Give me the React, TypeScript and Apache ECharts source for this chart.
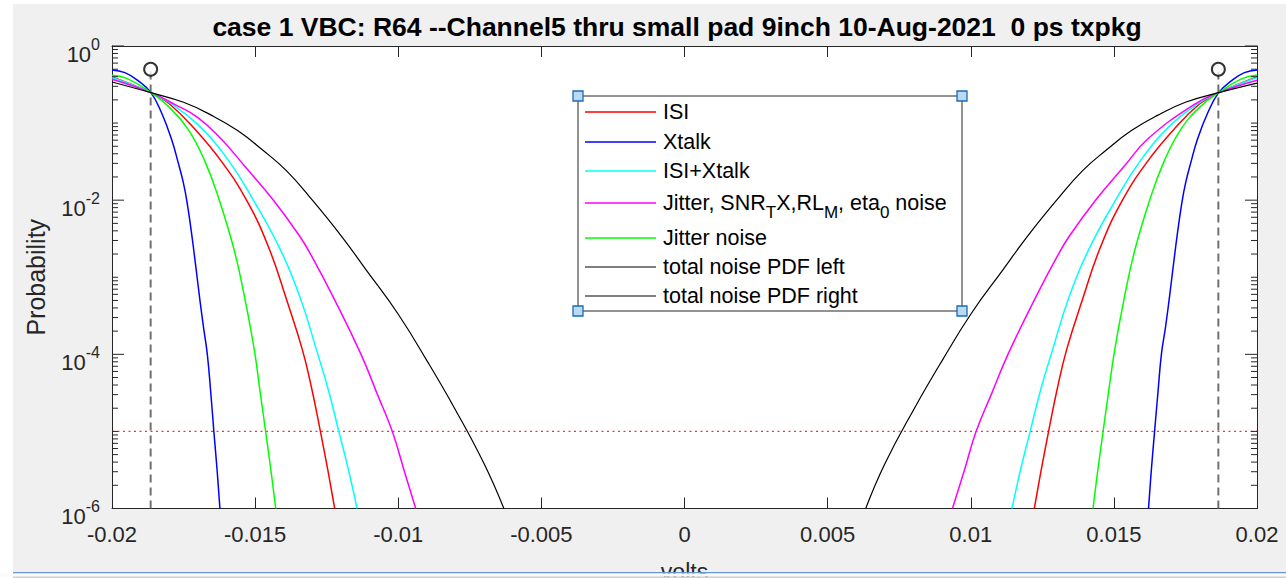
import { useEffect, useRef } from 'react';
import * as echarts from 'echarts';

const TITLE = 'case 1 VBC: R64 --Channel5 thru small pad 9inch 10-Aug-2021  0 ps txpkg';
const X_MIN = -0.02;
const X_MAX = 0.02;
const X_STEP = 0.005;
const Y_MIN = 1e-6;
const Y_MAX = 1;
const BER_LINE = 1e-5;
const MARKER_X = [-0.01865, 0.01865];
const MARKER_Y = 0.5;

const LEGEND_NAMES = [
  'ISI',
  'Xtalk',
  'ISI+Xtalk',
  '{n|Jitter, SNR}{s|T}{n|X,RL}{s|M}{n|, eta}{s|0}{n| noise}',
  'Jitter noise',
  'total noise PDF left',
  'total noise PDF right',
];
const COLORS = ['#ff0000', '#0000ff', '#00ffff', '#ff00ff', '#00ff00', '#000000', '#000000'];

// [volts, probability]
const isiLeft = [[-0.02, 0.398], [-0.01864, 0.248], [-0.018, 0.178], [-0.0171, 0.083], [-0.01617, 0.0316], [-0.0153, 0.01], [-0.01454, 0.00251], [-0.0139, 5.1e-4], [-0.01335, 1.15e-4], [-0.01302, 3.55e-5], [-0.01272, 1.0e-5], [-0.01245, 3.0e-6], [-0.01222, 1e-6]];
const isiRight = [[0.01222, 1e-6], [0.01245, 3.0e-6], [0.01272, 1.0e-5], [0.01302, 3.55e-5], [0.01335, 1.15e-4], [0.0139, 5.1e-4], [0.01454, 0.00251], [0.0153, 0.01], [0.01617, 0.0316], [0.0171, 0.083], [0.018, 0.178], [0.01866, 0.248], [0.02, 0.398]];
const xtalkLeft = [[-0.02, 0.489], [-0.01955, 0.451], [-0.01908, 0.352], [-0.01864, 0.248], [-0.01827, 0.136], [-0.01792, 0.0617], [-0.01769, 0.0309], [-0.01751, 0.017], [-0.01738, 0.0095], [-0.01722, 0.0037], [-0.01707, 0.00135], [-0.01693, 5.1e-4], [-0.0168, 2.2e-4], [-0.01667, 1.0e-4], [-0.01655, 3.2e-5], [-0.01644, 9.8e-6], [-0.01633, 3.2e-6], [-0.01623, 1e-6]];
const xtalkRight = [[0.01621, 1e-6], [0.01631, 3.2e-6], [0.01642, 9.8e-6], [0.01654, 3.2e-5], [0.01666, 1.0e-4], [0.0168, 2.2e-4], [0.01693, 5.1e-4], [0.01707, 0.00135], [0.01722, 0.0037], [0.01738, 0.0095], [0.01751, 0.017], [0.01769, 0.0309], [0.01792, 0.0617], [0.01828, 0.136], [0.01866, 0.248], [0.0191, 0.352], [0.01956, 0.451], [0.02, 0.489]];
const isiXtalkLeft = [[-0.02, 0.39], [-0.01864, 0.248], [-0.018, 0.185], [-0.017, 0.0955], [-0.01594, 0.0331], [-0.01506, 0.01], [-0.01407, 0.00209], [-0.0134, 5.1e-4], [-0.01286, 1.15e-4], [-0.01245, 3.55e-5], [-0.01207, 9.8e-6], [-0.01175, 3.3e-6], [-0.01144, 1e-6]];
const isiXtalkRight = [[0.01144, 1e-6], [0.01175, 3.3e-6], [0.01207, 9.8e-6], [0.01245, 3.55e-5], [0.01286, 1.15e-4], [0.0134, 5.1e-4], [0.01407, 0.00209], [0.01506, 0.01], [0.01594, 0.0331], [0.017, 0.0955], [0.018, 0.185], [0.01866, 0.248], [0.02, 0.39]];
const jitterSnrLeft = [[-0.02, 0.37], [-0.01864, 0.248], [-0.0178, 0.174], [-0.017, 0.118], [-0.0162, 0.063], [-0.01536, 0.0275], [-0.01436, 0.01], [-0.01344, 0.0034], [-0.01302, 0.00186], [-0.01228, 5.6e-4], [-0.0113, 1.0e-4], [-0.01075, 3.16e-5], [-0.0102, 9.8e-6], [-0.0098, 3.16e-6], [-0.00939, 1e-6]];
const jitterSnrRight = [[0.00936, 1e-6], [0.00978, 3.16e-6], [0.01018, 9.8e-6], [0.01074, 3.16e-5], [0.0113, 1.0e-4], [0.01228, 5.6e-4], [0.01302, 0.00186], [0.01344, 0.0034], [0.01436, 0.01], [0.01536, 0.0275], [0.0162, 0.063], [0.0178, 0.174], [0.01866, 0.248], [0.02, 0.36]];
const jitterLeft = [[-0.02, 0.417], [-0.01943, 0.372], [-0.01864, 0.248], [-0.01804, 0.166], [-0.01734, 0.083], [-0.01675, 0.0316], [-0.01625, 0.01], [-0.01573, 0.00224], [-0.01535, 5.1e-4], [-0.01503, 1.15e-4], [-0.01482, 3.16e-5], [-0.01463, 9.8e-6], [-0.01445, 3.16e-6], [-0.01428, 1e-6]];
const jitterRight = [[0.01427, 1e-6], [0.01444, 3.16e-6], [0.01462, 9.8e-6], [0.01481, 3.16e-5], [0.01503, 1.15e-4], [0.01535, 5.1e-4], [0.01573, 0.00224], [0.01625, 0.01], [0.01675, 0.0316], [0.01734, 0.083], [0.01804, 0.166], [0.01866, 0.248], [0.01944, 0.372], [0.02, 0.42]];
const totalLeft = [[-0.02, 0.341], [-0.01864, 0.248], [-0.0175, 0.186], [-0.01652, 0.126], [-0.0156, 0.0794], [-0.01477, 0.0457], [-0.0139, 0.024], [-0.013, 0.01], [-0.012, 0.00347], [-0.01111, 0.00123], [-0.01, 3.31e-4], [-0.009, 8.3e-5], [-0.008, 1.9e-5], [-0.007, 3.8e-6], [-0.00631, 1e-6]];
const totalRight = [[0.00633, 1e-6], [0.007, 3.8e-6], [0.008, 1.9e-5], [0.009, 8.3e-5], [0.01, 3.31e-4], [0.01111, 0.00123], [0.012, 0.00347], [0.013, 0.01], [0.0139, 0.024], [0.01477, 0.0457], [0.0156, 0.0794], [0.01652, 0.126], [0.0175, 0.186], [0.01866, 0.248], [0.02, 0.33]];

const SERIES_DATA = [
  [isiLeft, isiRight],
  [xtalkLeft, xtalkRight],
  [isiXtalkLeft, isiXtalkRight],
  [jitterSnrLeft, jitterSnrRight],
  [jitterLeft, jitterRight],
  [totalLeft],
  [totalRight],
];

const FONT = '"Liberation Sans", Arial, Helvetica, sans-serif';
const AXIS = '#262626';
const TEXT = '#262626';

// log-axis tick marks (major every 2 decades, minor at k*10^n)
const Y_MAJOR_EXP = [-6, -4, -2, 0];
const Y_DECADES = [-6, -5, -4, -3, -2, -1];
const MANTISSAS = [1, 2, 3, 4, 5, 6, 7, 8, 9];

export default function App() {
  const ref = useRef<HTMLDivElement>(null);
  useEffect(() => {
    if (!ref.current) return;
    const chart = echarts.init(ref.current, undefined, { renderer: 'svg' });

    const tickData: number[][] = [];
    Y_MAJOR_EXP.forEach((e) => tickData.push([X_MIN, Math.pow(10, e), 12]));
    Y_DECADES.forEach((e) => {
      MANTISSAS.forEach((m) => {
        if (m === 1 && Y_MAJOR_EXP.indexOf(e) >= 0) return;
        tickData.push([X_MIN, m * Math.pow(10, e), 6]);
      });
    });

    const lineSeries: any[] = [];
    SERIES_DATA.forEach((parts, i) => {
      parts.forEach((d, j) => {
        lineSeries.push({
          type: 'line',
          name: j === 0 ? 's' + i : 's' + i + 'r',
          data: d,
          showSymbol: false,
          smooth: 0.45,
          lineStyle: { color: COLORS[i], width: i >= 5 ? 1.2 : 1.5 },
          itemStyle: { color: COLORS[i] },
          silent: true,
          z: 3,
        });
      });
    });

    const legendRowsY = [112, 142, 171, 203, 238, 267, 296];
    const legendChildren: any[] = [
      { type: 'rect', shape: { x: 578, y: 96, width: 384, height: 215 }, style: { fill: '#ffffff', stroke: AXIS, lineWidth: 1 } },
    ];
    LEGEND_NAMES.forEach((name, i) => {
      const y = legendRowsY[i];
      legendChildren.push({ type: 'line', shape: { x1: 585, y1: y, x2: 656, y2: y }, style: { stroke: COLORS[i], lineWidth: i >= 5 ? 1.2 : 1.5 } });
      legendChildren.push({
        type: 'text',
        style: {
          x: 663, y, text: name, fill: '#000', fontSize: 21.5, fontFamily: FONT, verticalAlign: 'middle', align: 'left',
          rich: {
            n: { fontSize: 21.5, lineHeight: 21, fontFamily: FONT, fill: '#000' },
            s: { fontSize: 17, lineHeight: 17, padding: [18, 0, 0, 0], fontFamily: FONT, fill: '#000' },
          },
        },
      });
    });
    [[578, 96], [962, 96], [578, 311], [962, 311]].forEach(([cx, cy]) => {
      legendChildren.push({ type: 'rect', shape: { x: cx - 5, y: cy - 5, width: 10, height: 10 }, style: { fill: '#b9daf2', stroke: '#1d6bb5', lineWidth: 1.3 } });
    });

    const xAxisBase = {
      type: 'value', min: X_MIN, max: X_MAX, interval: X_STEP,
      axisLine: { show: true, onZero: false, lineStyle: { color: AXIS, width: 1 } },
      axisTick: { show: true, inside: true, length: 11, lineStyle: { color: AXIS, width: 1 } },
      splitLine: { show: false },
    };
    const yAxisBase = {
      type: 'log', logBase: 10, min: Y_MIN, max: Y_MAX, splitNumber: 6,
      axisLine: { show: true, onZero: false, lineStyle: { color: AXIS, width: 1 } },
      axisTick: { show: false },
      minorTick: { show: false },
      splitLine: { show: false },
    };

    chart.setOption({
      animation: false,
      backgroundColor: '#ffffff',
      grid: {
        left: 112, top: 46, width: 1145, height: 462.5, show: true, backgroundColor: '#ffffff', borderWidth: 0,
        containLabel: false, outerBoundsMode: 'none',
      },
      xAxis: [
        {
          ...xAxisBase, position: 'bottom',
          name: 'volts', nameLocation: 'middle', nameGap: 52,
          nameTextStyle: { fontSize: 23, color: TEXT, fontFamily: FONT },
          axisLabel: { show: true, margin: 15, color: TEXT, fontSize: 22, fontFamily: FONT },
        },
        { ...xAxisBase, position: 'top', axisLabel: { show: false } },
      ],
      yAxis: [
        {
          ...yAxisBase, position: 'left',
          name: 'Probability', nameLocation: 'middle', nameGap: 64, nameRotate: 90,
          nameTextStyle: { fontSize: 25, color: TEXT, fontFamily: FONT },
          axisLabel: {
            show: true, margin: 12, color: TEXT, fontFamily: FONT,
            formatter: (v: number) => {
              const e = Math.round(Math.log10(v));
              if (Y_MAJOR_EXP.indexOf(e) < 0) return '';
              return '{b|10}{e|' + e + '}';
            },
            rich: {
              b: { fontSize: 22, lineHeight: 22, padding: [16, 0, 0, 0], color: TEXT, fontFamily: FONT },
              e: { fontSize: 16, lineHeight: 16, padding: [0, 0, 4, 0], color: TEXT, fontFamily: FONT },
            },
          },
        },
        { ...yAxisBase, position: 'right', axisLabel: { show: false } },
      ],
      graphic: [
        { type: 'rect', z: -100, shape: { x: 13, y: 4, width: 1273, height: 568 }, style: { fill: '#f0f0f0' } },
        {
          type: 'text', z: 10,
          style: { x: 677, y: 27, text: TITLE, fill: '#000', fontSize: 26.5, fontWeight: 'bold', fontFamily: FONT, align: 'center', verticalAlign: 'middle' },
        },
        { type: 'group', z: 50, children: legendChildren },
        { type: 'rect', z: 200, shape: { x: 13, y: 572, width: 1273, height: 1.5 }, style: { fill: '#6a96cc' } },
        { type: 'rect', z: 200, shape: { x: 0, y: 573.5, width: 1286, height: 3 }, style: { fill: '#fafafa' } },
        { type: 'rect', z: 200, shape: { x: 13, y: 576.5, width: 1273, height: 1.5 }, style: { fill: '#cfcfcf' } },
      ],
      series: [
        ...lineSeries,
        {
          type: 'line', data: [[MARKER_X[0], Y_MIN], [MARKER_X[0], MARKER_Y]], showSymbol: false, silent: true, z: 2,
          lineStyle: { color: '#707070', width: 2, type: [8, 5] },
        },
        {
          type: 'line', data: [[MARKER_X[1], Y_MIN], [MARKER_X[1], MARKER_Y]], showSymbol: false, silent: true, z: 2,
          lineStyle: { color: '#707070', width: 2, type: [8, 5] },
        },
        {
          type: 'line', data: [[X_MIN, BER_LINE], [X_MAX, BER_LINE]], showSymbol: false, silent: true, z: 2,
          lineStyle: { color: '#ff3030', width: 1.2, type: [2, 3.5] },
        },
        {
          type: 'scatter', data: MARKER_X.map((x) => [x, MARKER_Y]), symbol: 'emptyCircle', symbolSize: 13, silent: true, z: 4,
          itemStyle: { color: '#000', borderColor: '#000', borderWidth: 1.3 },
        },
        {
          type: 'custom', data: tickData, silent: true, clip: false, z: 5,
          encode: { x: 0, y: 1 },
          renderItem: (_p: any, api: any) => {
            const v = api.value(1);
            const len = api.value(2);
            const l = api.coord([X_MIN, v]);
            const r = api.coord([X_MAX, v]);
            return {
              type: 'group',
              children: [
                { type: 'line', shape: { x1: l[0], y1: l[1], x2: l[0] + len, y2: l[1] }, style: { stroke: AXIS, lineWidth: 1 } },
                { type: 'line', shape: { x1: r[0] - len, y1: r[1], x2: r[0], y2: r[1] }, style: { stroke: AXIS, lineWidth: 1 } },
              ],
            };
          },
        },
      ],
    });
    return () => chart.dispose();
  }, []);
  return <div ref={ref} style={{ position: 'absolute', left: 0, top: 0, width: 1286, height: 578 }} />;
}
